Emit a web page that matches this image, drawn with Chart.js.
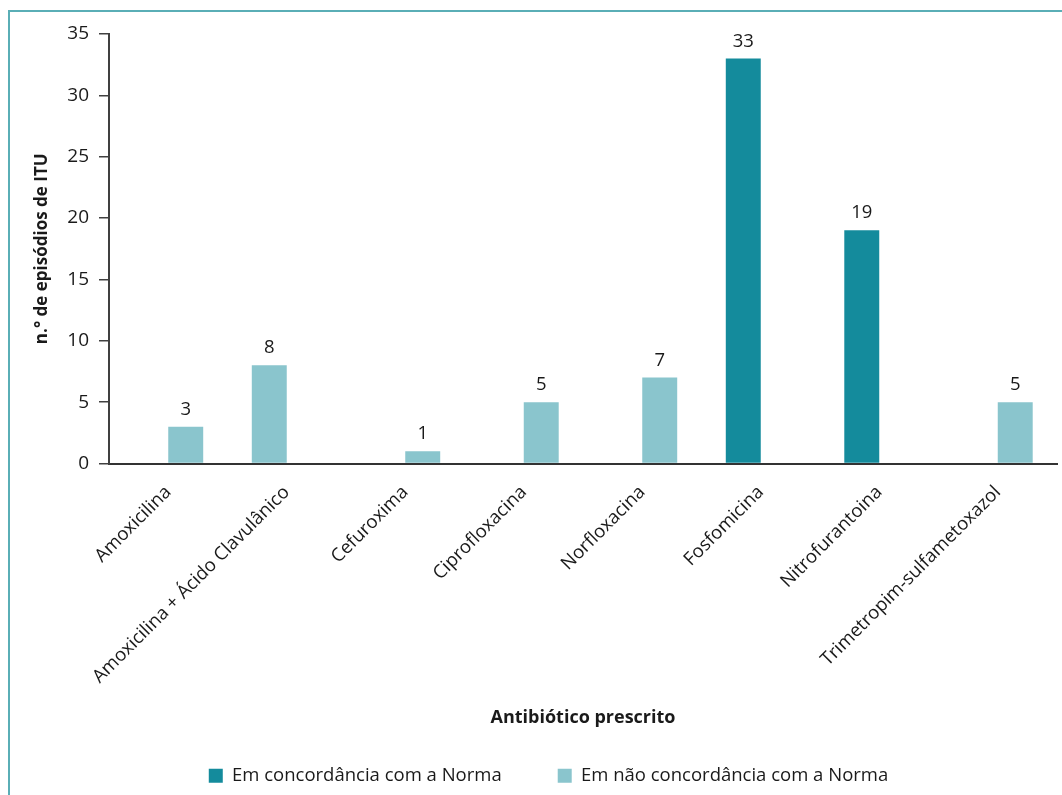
<!DOCTYPE html>
<html lang="pt">
<head>
<meta charset="utf-8">
<title>Antibiótico prescrito por episódio de ITU</title>
<script src="https://cdn.jsdelivr.net/npm/chart.js@4.4.1/dist/chart.umd.min.js"></script>
<style>
  html, body { margin: 0; padding: 0; background: #ffffff; }
  #wrap { position: relative; width: 1062px; height: 795px; }
</style>
</head>
<body>
<div id="wrap"><canvas id="grafico" width="1062" height="795"></canvas></div>
<script>
// Antibióticos prescritos (categorias do eixo horizontal)
const categorias = [
  'Amoxicilina',
  'Amoxicilina + Ácido Clavulânico',
  'Cefuroxima',
  'Ciprofloxacina',
  'Norfloxacina',
  'Fosfomicina',
  'Nitrofurantoina',
  'Trimetropim-sulfametoxazol'
];

// n.º de episódios de ITU por antibiótico
const concordancia    = [null, null, null, null, null, 33, 19, null];
const naoConcordancia = [3, 8, 1, 5, 7, null, null, 5];

// Rótulos das séries e marcas do eixo vertical
const nomesSeries = ['Em concordância com a Norma', 'Em não concordância com a Norma'];
const marcasY = [0, 5, 10, 15, 20, 25, 30, 35];

const COR_ESCURA = '#148b9c';
const COR_CLARA  = '#8ac5cd';
const COR_MOLDURA = '#5aaeb6';
const FONTE = '"Open Sans", "Noto Sans", sans-serif';

// A barra de Amoxicilina + Ácido Clavulânico ocupa a primeira posição do grupo
const AMOX_AC = 'Amoxicilina + Ácido Clavulânico';
const serie1 = categorias.map((c, i) => concordancia[i] ?? (c === AMOX_AC ? naoConcordancia[i] : null));
const serie2 = categorias.map((c, i) => (c === AMOX_AC ? null : naoConcordancia[i]));

// Moldura (linhas superior e esquerda)
const moldura = {
  id: 'moldura',
  beforeDraw(chart) {
    const ctx = chart.ctx;
    ctx.save();
    ctx.strokeStyle = COR_MOLDURA;
    ctx.lineWidth = 2;
    ctx.beginPath();
    ctx.moveTo(9, chart.height);
    ctx.lineTo(9, 11);
    ctx.lineTo(chart.width, 11);
    ctx.stroke();
    ctx.restore();
  }
};

// Valores escritos por cima de cada barra
const valores = {
  id: 'valores',
  afterDatasetsDraw(chart) {
    const ctx = chart.ctx;
    ctx.save();
    ctx.font = '18.5px ' + FONTE;
    ctx.fillStyle = '#1a1a1a';
    ctx.textAlign = 'center';
    ctx.textBaseline = 'alphabetic';
    chart.data.datasets.forEach((ds, di) => {
      const meta = chart.getDatasetMeta(di);
      meta.data.forEach((bar, i) => {
        const v = ds.data[i];
        if (v === null || v === undefined) return;
        ctx.fillText(String(v), bar.x, bar.y - 12);
      });
    });
    ctx.restore();
  }
};

new Chart(document.getElementById('grafico'), {
  type: 'bar',
  data: {
    labels: categorias,
    datasets: [
      {
        label: nomesSeries[0],
        data: serie1,
        backgroundColor: (ctx) => (ctx.dataIndex !== undefined && categorias[ctx.dataIndex] === AMOX_AC ? COR_CLARA : COR_ESCURA),
        barPercentage: 1,
        categoryPercentage: 0.59
      },
      {
        label: nomesSeries[1],
        data: serie2,
        backgroundColor: COR_CLARA,
        barPercentage: 1,
        categoryPercentage: 0.59
      }
    ]
  },
  options: {
    responsive: false,
    animation: false,
    layout: { padding: { left: 40, top: 34, right: 5, bottom: 0 } },
    plugins: {
      legend: {
        position: 'bottom',
        fullSize: true,
        labels: {
          font: { family: FONTE, size: 18.5 },
          color: '#1a1a1a',
          boxWidth: 14,
          boxHeight: 14,
          padding: 56
        }
      },
      tooltip: { enabled: false }
    },
    scales: {
      x: {
        grid: { display: false, drawTicks: false },
        border: { display: true, color: '#333333', width: 2 },
        ticks: {
          minRotation: 45,
          maxRotation: 45,
          padding: 18,
          color: '#1a1a1a',
          font: { family: FONTE, size: 18.5 },
          autoSkip: false
        },
        title: {
          display: true,
          text: 'Antibiótico prescrito',
          color: '#1a1a1a',
          font: { family: FONTE, size: 18, weight: 'bold' },
          padding: { top: 0, bottom: -18 }
        },
        afterFit(scale) { scale.height = 247; }
      },
      y: {
        min: 0,
        max: 35,
        afterBuildTicks(scale) { scale.ticks = marcasY.map(v => ({ value: v })); },
        grid: { drawOnChartArea: false, drawTicks: true, tickLength: 10, color: '#404040', lineWidth: 1.5 },
        border: { display: true, color: '#404040', width: 2 },
        ticks: {
          padding: 10,
          color: '#1a1a1a',
          font: { family: FONTE, size: 19 }
        },
        title: {
          display: true,
          text: 'n.° de episódios de ITU',
          color: '#1a1a1a',
          font: { family: FONTE, size: 17, weight: 'bold' },
          padding: { top: -8, bottom: 0 }
        },
        afterFit(scale) { scale.width = 69; }
      }
    }
  },
  plugins: [moldura, valores]
});
</script>
</body>
</html>
